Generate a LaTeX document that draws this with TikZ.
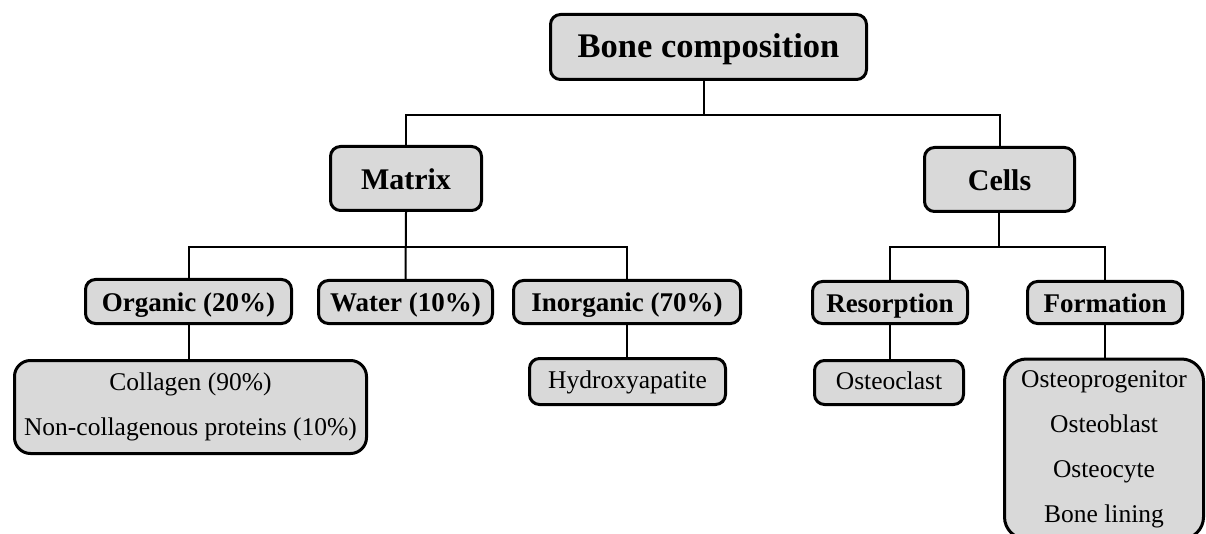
\documentclass[tikz,border=0pt]{standalone}
\usepackage{fontspec}
\setmainfont{Liberation Serif}
\definecolor{boxgray}{HTML}{D9D9D9}
\begin{document}
\begin{tikzpicture}[x=1pt,y=-1pt,
  box/.style={draw=black,fill=boxgray,line width=3pt,rounded corners=10pt,inner sep=0pt,align=center},
  conn/.style={draw=black,line width=2pt},
  lvla/.style={font=\fontsize{34.5}{40}\selectfont\bfseries,text height=22pt,text depth=0pt},
  lvlb/.style={font=\fontsize{30}{36}\selectfont\bfseries,text height=22pt,text depth=0pt},
  lvlc/.style={font=\fontsize{27}{32}\selectfont\bfseries,text height=20pt,text depth=0pt},
  leafone/.style={font=\fontsize{25.5}{45}\selectfont,text height=14pt,text depth=0pt},
  leaf/.style={font=\fontsize{25.5}{45}\selectfont}]
\useasboundingbox (0,0) rectangle (1206,534);
\node[box,lvla,minimum width=316pt,minimum height=65pt] (bone) at (708.5,47) {Bone composition};
\node[box,lvlb,minimum width=151pt,minimum height=64pt] (matrix) at (406,178.5) {Matrix};
\node[box,lvlb,minimum width=150pt,minimum height=64pt] (cells) at (999.5,179.5) {Cells};
\node[box,lvlc,minimum width=206pt,minimum height=44pt] (organic) at (188.5,301.5) {Organic (20\%)};
\node[box,lvlc,minimum width=174pt,minimum height=43pt] (water) at (405.5,302) {Water (10\%)};
\node[box,lvlc,minimum width=227pt,minimum height=43pt] (inorganic) at (627,302) {Inorganic (70\%)};
\node[box,lvlc,minimum width=155pt,minimum height=42pt] (resorption) at (890,302.5) {Resorption};
\node[box,lvlc,minimum width=155pt,minimum height=42pt] (formation) at (1105,302.5) {Formation};
\node[box,leaf,rounded corners=16pt,minimum width=352pt,minimum height=93pt] (orggroup) at (190.5,407) {Collagen (90\%)\\Non-collagenous proteins (10\%)};
\node[box,leafone,minimum width=196pt,minimum height=46pt] (hydroxy) at (627.5,381.5) {Hydroxyapatite};
\node[box,leafone,minimum width=149pt,minimum height=44pt] (osteoclast) at (889,382.5) {Osteoclast};
\node[box,leaf,rounded corners=22pt,minimum width=199pt,minimum height=180pt] (formgroup) at (1104,449) {Osteoprogenitor\\Osteoblast\\Osteocyte\\Bone lining};
\coordinate (j1) at (704,115);
\coordinate (j2) at (406,247);
\coordinate (j3) at (999,247);
\draw[conn] (bone.south -| j1) -- (j1);
\draw[conn] (matrix.north) |- (j1) -| (cells.north);
\draw[conn] (matrix.south) -- (water.north);
\draw[conn] (organic.north) |- (j2) -| (inorganic.north);
\draw[conn] (cells.south -| j3) -- (j3);
\draw[conn] (resorption.north) |- (j3) -| (formation.north);
\draw[conn] (organic.south) -- (organic.south |- orggroup.north);
\draw[conn] (inorganic.south) -- (inorganic.south |- hydroxy.north);
\draw[conn] (resorption.south) -- (resorption.south |- osteoclast.north);
\draw[conn] (formation.south) -- (formation.south |- formgroup.north);
\end{tikzpicture}
\end{document}
